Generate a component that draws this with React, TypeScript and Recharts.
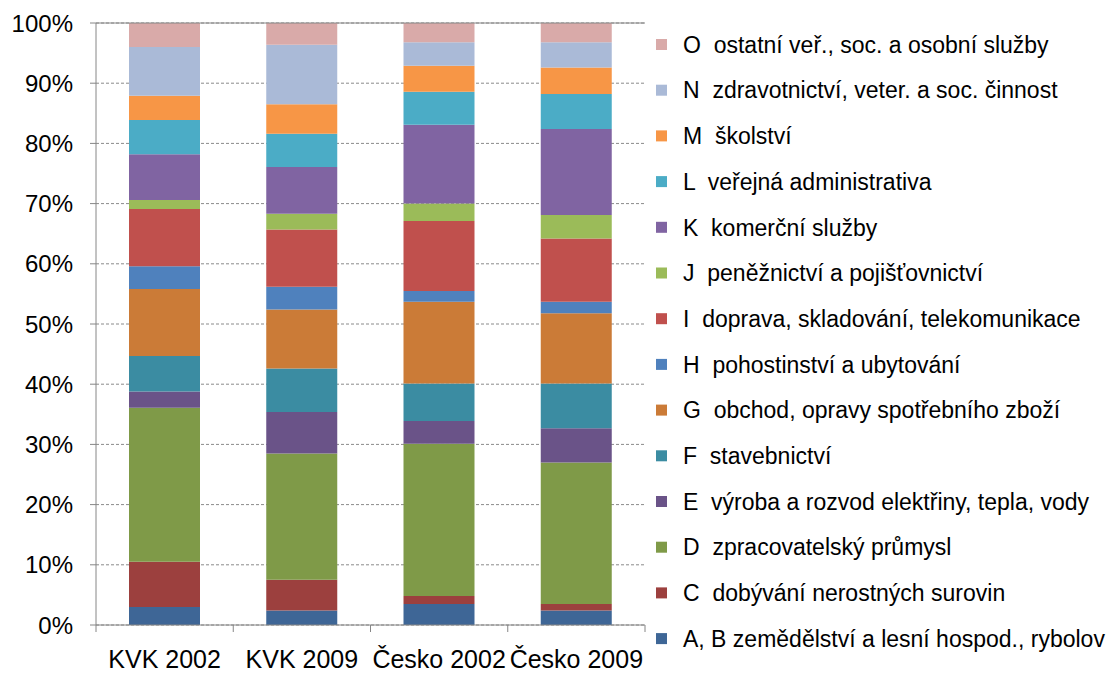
import React from 'react';
import { BarChart, Bar, XAxis, YAxis, CartesianGrid, ReferenceLine } from 'recharts';

const categories = ['KVK 2002', 'KVK 2009', 'Česko 2002', 'Česko 2009'];

const seriesNames = [
  'A, B zemědělství a lesní hospod., rybolov',
  'C  dobývání nerostných surovin',
  'D  zpracovatelský průmysl',
  'E  výroba a rozvod elektřiny, tepla, vody',
  'F  stavebnictví',
  'G  obchod, opravy spotřebního zboží',
  'H  pohostinství a ubytování',
  'I  doprava, skladování, telekomunikace',
  'J  peněžnictví a pojišťovnictví',
  'K  komerční služby',
  'L  veřejná administrativa',
  'M  školství',
  'N  zdravotnictví, veter. a soc. činnost',
  'O  ostatní veř., soc. a osobní služby',
];

const seriesAB = [3.0, 2.4, 3.5, 2.4];
const seriesC = [7.5, 5.1, 1.3, 1.1];
const seriesD = [25.6, 21.0, 25.3, 23.5];
const seriesE = [2.7, 6.9, 3.8, 5.7];
const seriesF = [5.9, 7.2, 6.2, 7.4];
const seriesG = [11.1, 9.8, 13.6, 11.7];
const seriesH = [3.8, 3.8, 1.8, 1.9];
const seriesI = [9.5, 9.5, 11.6, 10.5];
const seriesJ = [1.5, 2.6, 2.9, 3.9];
const seriesK = [7.6, 7.8, 13.1, 14.3];
const seriesL = [5.7, 5.5, 5.5, 5.8];
const seriesM = [4.0, 4.9, 4.3, 4.4];
const seriesN = [8.1, 9.9, 3.9, 4.2];
const seriesO = [4.0, 3.6, 3.2, 3.2];

const yTicks = [0, 10, 20, 30, 40, 50, 60, 70, 80, 90, 100];

const allSeries = [
  seriesAB, seriesC, seriesD, seriesE, seriesF, seriesG, seriesH,
  seriesI, seriesJ, seriesK, seriesL, seriesM, seriesN, seriesO,
];

const colors = [
  '#3E6696', '#9C403E', '#7F9A48', '#6A5388', '#3B8CA2', '#CB7B37', '#4F81BD',
  '#C0504D', '#9BBB59', '#8064A2', '#4BACC6', '#F79646', '#AABAD7', '#D9AAA9',
];

const keys = allSeries.map((_, i) => 's' + i);

const data = categories.map((c, ci) => {
  const row: Record<string, string | number> = { name: c };
  allSeries.forEach((s, si) => {
    row[keys[si]] = s[ci];
  });
  return row;
});

const FONT = '"Liberation Sans", Arial, sans-serif';
const AXIS = '#868686';
const PLOT_LEFT = 96;
const PLOT_RIGHT = 645;
const BAND = (PLOT_RIGHT - PLOT_LEFT) / categories.length;

const XTick = (props: any) => {
  const { x, y, payload, index } = props;
  const left = x - BAND / 2;
  const right = x + BAND / 2;
  return (
    <g>
      <line x1={left} x2={left} y1={y - 7} y2={y} stroke={AXIS} strokeWidth={1} />
      {index === categories.length - 1 && (
        <line x1={right} x2={right} y1={y - 7} y2={y} stroke={AXIS} strokeWidth={1} />
      )}
      <text x={x} y={y + 36} textAnchor="middle" fontSize={25} fontFamily={FONT} fill="#000">
        {payload.value}
      </text>
    </g>
  );
};

const LegendOverlay = () => {
  const items = seriesNames.map((n, i) => ({ n, c: colors[i] })).reverse();
  return (
    <svg width={1113} height={673} style={{ position: 'absolute', left: 0, top: 0, pointerEvents: 'none' }}>
      {items.map((it, i) => {
        const cy = 44.5 + 45.7 * i;
        return (
          <g key={it.n}>
            <rect x={656} y={cy - 5.5} width={11} height={11} fill={it.c} />
            <text x={683} y={cy + 8.2} fontSize={23} fontFamily={FONT} fill="#000" style={{ whiteSpace: 'pre' }} xmlSpace="preserve">
              {it.n}
            </text>
          </g>
        );
      })}
    </svg>
  );
};

export default function App() {
  return (
    <div style={{ position: 'absolute', left: 0, top: 0, width: 1113, height: 673, background: '#fff' }}>
      <BarChart
        width={1113}
        height={673}
        data={data}
        margin={{ top: 23, right: 1113 - PLOT_RIGHT, bottom: 0, left: 0 }}
        barSize={71}
      >
        <CartesianGrid vertical={false} stroke="#8a8a8a" strokeDasharray="3 2" />
        <XAxis
          dataKey="name"
          height={48}
          axisLine={{ stroke: AXIS, strokeWidth: 1 }}
          tickLine={false}
          tickSize={7}
          tickMargin={0}
          interval={0}
          tick={<XTick />}
        />
        <YAxis
          width={PLOT_LEFT}
          domain={[0, 100]}
          ticks={yTicks}
          allowDataOverflow
          axisLine={{ stroke: AXIS, strokeWidth: 1 }}
          tickLine={{ stroke: AXIS, strokeWidth: 1 }}
          tickSize={6}
          tickMargin={17}
          tickFormatter={(v: number) => v + '%'}
          tick={{ fontSize: 24, fontFamily: FONT, fill: '#000' }}
        />
        <YAxis
          yAxisId="r"
          orientation="right"
          width={0}
          domain={[0, 100]}
          tick={false}
          tickLine={false}
          axisLine={{ stroke: '#b0b0b0', strokeWidth: 1 }}
        />
        <ReferenceLine y={100} stroke={AXIS} strokeWidth={1} />
        {keys.map((k, i) => (
          <Bar key={k} dataKey={k} stackId="a" fill={colors[i]} isAnimationActive={false} />
        ))}
      </BarChart>
      <LegendOverlay />
    </div>
  );
}
